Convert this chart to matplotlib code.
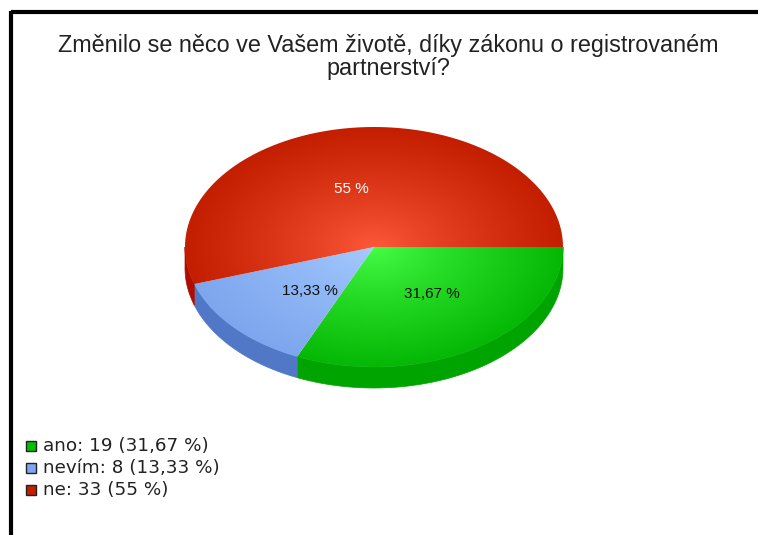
import numpy as np
import matplotlib
matplotlib.use("Agg")
import matplotlib.pyplot as plt
from matplotlib.patches import Polygon, Rectangle
from matplotlib.colors import to_rgb

# data
title = "Změnilo se něco ve Vašem životě, díky zákonu o registrovaném\npartnerství?"
labels = ["ano", "nevím", "ne"]
counts = [19, 8, 33]
pct_text = ["31,67 %", "13,33 %", "55 %"]
legend_text = ["ano: 19 (31,67 %)", "nevím: 8 (13,33 %)", "ne: 33 (55 %)"]

# colours: (edge of top, centre of top, side)
top_edge = ["#05b805", "#7ea6ee", "#c41e00"]
top_mid = ["#48ff48", "#a6ccff", "#ff5a3c"]
side_col = ["#00a400", "#5078c6", "#b00c00"]
legend_col = ["#00c000", "#7ea6ee", "#c41e00"]
label_col = ["#111111", "#111111", "#ffffff"]

plt.rcParams['font.family'] = ['Liberation Sans', 'DejaVu Sans']

fig = plt.figure(figsize=(7.58, 5.35), dpi=100)
ax = fig.add_axes([0, 0, 1, 1])
ax.set_xlim(0, 758)
ax.set_ylim(535, 0)
ax.axis('off')

# frame (top + left lines)
ax.plot([10.5, 758], [12, 12], color='black', lw=3, solid_capstyle='butt')
ax.plot([10.5, 10.5], [10.5, 535], color='black', lw=3, solid_capstyle='butt')

ax.text(388, 57, title, ha='center', va='center', fontsize=16.8,
        color='#222222', linespacing=0.96)

# pie geometry
cx, cy, rx, ry, depth = 374, 247, 189, 120, 21


def pt(t, r=1.0, dy=0.0):
    return cx + r * rx * np.cos(t), cy - r * ry * np.sin(t) + dy


fracs = np.array(counts) / sum(counts)
starts = -2 * np.pi * np.concatenate([[0], np.cumsum(fracs)[:-1]])
ends = starts - 2 * np.pi * fracs

# sides (front half only: angle in [-pi, 0])
for i in range(len(counts)):
    a0, a1 = min(starts[i], 0), max(ends[i], -np.pi)
    if a0 <= a1:
        continue
    t = np.linspace(a0, a1, 80)
    xs, ys = pt(t)
    xb, yb = pt(t[::-1], dy=depth)
    poly = np.column_stack([np.concatenate([xs, xb]), np.concatenate([ys, yb])])
    ax.add_patch(Polygon(poly, closed=True, facecolor=side_col[i],
                         edgecolor=side_col[i], lw=0.5, zorder=2))

# tops with radial gradient
gx, gy = np.meshgrid(np.linspace(cx - rx, cx + rx, 400),
                     np.linspace(cy - ry, cy + ry, 300))
rr = np.clip(np.sqrt(((gx - cx) / rx) ** 2 + ((gy - cy) / ry) ** 2), 0, 1)
for i in range(len(counts)):
    t = np.linspace(starts[i], ends[i], 120)
    xs, ys = pt(t)
    poly = np.column_stack([np.concatenate([[cx], xs]), np.concatenate([[cy], ys])])
    c0, c1 = np.array(to_rgb(top_mid[i])), np.array(to_rgb(top_edge[i]))
    k = (rr ** 0.8)[..., None]
    img = c0 * (1 - k) + c1 * k
    im = ax.imshow(img, extent=(cx - rx, cx + rx, cy + ry, cy - ry),
                   origin='upper', zorder=3, interpolation='bilinear')
    patch = Polygon(poly, closed=True, facecolor='none', edgecolor='none', zorder=3)
    ax.add_patch(patch)
    im.set_clip_path(patch)
    mid = (starts[i] + ends[i]) / 2 + np.radians(5)
    lx, ly = pt(mid, r=0.5)
    ax.text(lx, ly, pct_text[i], ha='center', va='center', fontsize=11,
            color=label_col[i], zorder=5)

ax.set_xlim(0, 758)
ax.set_ylim(535, 0)
ax.set_aspect('auto')

# legend
for i, txt in enumerate(legend_text):
    y = 446 + 22 * i
    ax.add_patch(Rectangle((26, y - 5), 10, 10, facecolor=legend_col[i],
                           edgecolor='#222222', lw=1, zorder=4))
    ax.text(43, y, txt, ha='left', va='center', fontsize=13.2, color='#222222',
            family='DejaVu Sans')

fig.savefig("out.png", dpi=100)
